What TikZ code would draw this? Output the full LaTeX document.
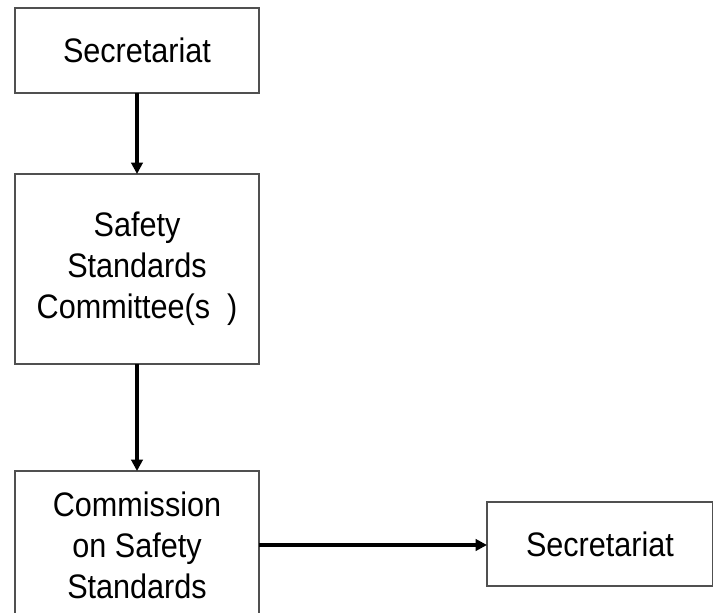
\documentclass[tikz,border=0pt]{standalone}
\usepackage{fontspec}
\setmainfont{Liberation Sans}[FakeStretch=0.9]
\usetikzlibrary{arrows.meta}
\definecolor{cEdge}{HTML}{505050}

\begin{document}
\begin{tikzpicture}[
  x=0.75pt,y=-0.75pt,
  font=\fontsize{25.5}{30.75}\selectfont,
  box/.style={draw=cEdge,line width=0.8pt,align=center,inner sep=0pt,outer sep=0pt},
  flow/.style={-{Triangle[length=8.5pt,width=8.5pt]},line width=2.6pt}
]
\useasboundingbox (0,0) rectangle (713,613);
\clip (0,0) rectangle (713,613);
\node[box,minimum width=183pt,minimum height=63.75pt] (sec1) at (137,50.5) {Secretariat};
\node[box,minimum width=183pt,minimum height=142.5pt] (ssc) at (137,269) {Safety\\Standards\\Committee(s~~)};
\node[box,minimum width=183pt,minimum height=111pt] (css) at (137,545) {Commission\\on Safety\\Standards};
\node[box,minimum width=169.5pt,minimum height=63pt] (sec2) at (600,544) {Secretariat};
\draw[flow] (sec1) -- (ssc);
\draw[flow] (ssc) -- (css);
\draw[flow] (css.east) -- (sec2.west |- css.east);
\end{tikzpicture}
\end{document}
